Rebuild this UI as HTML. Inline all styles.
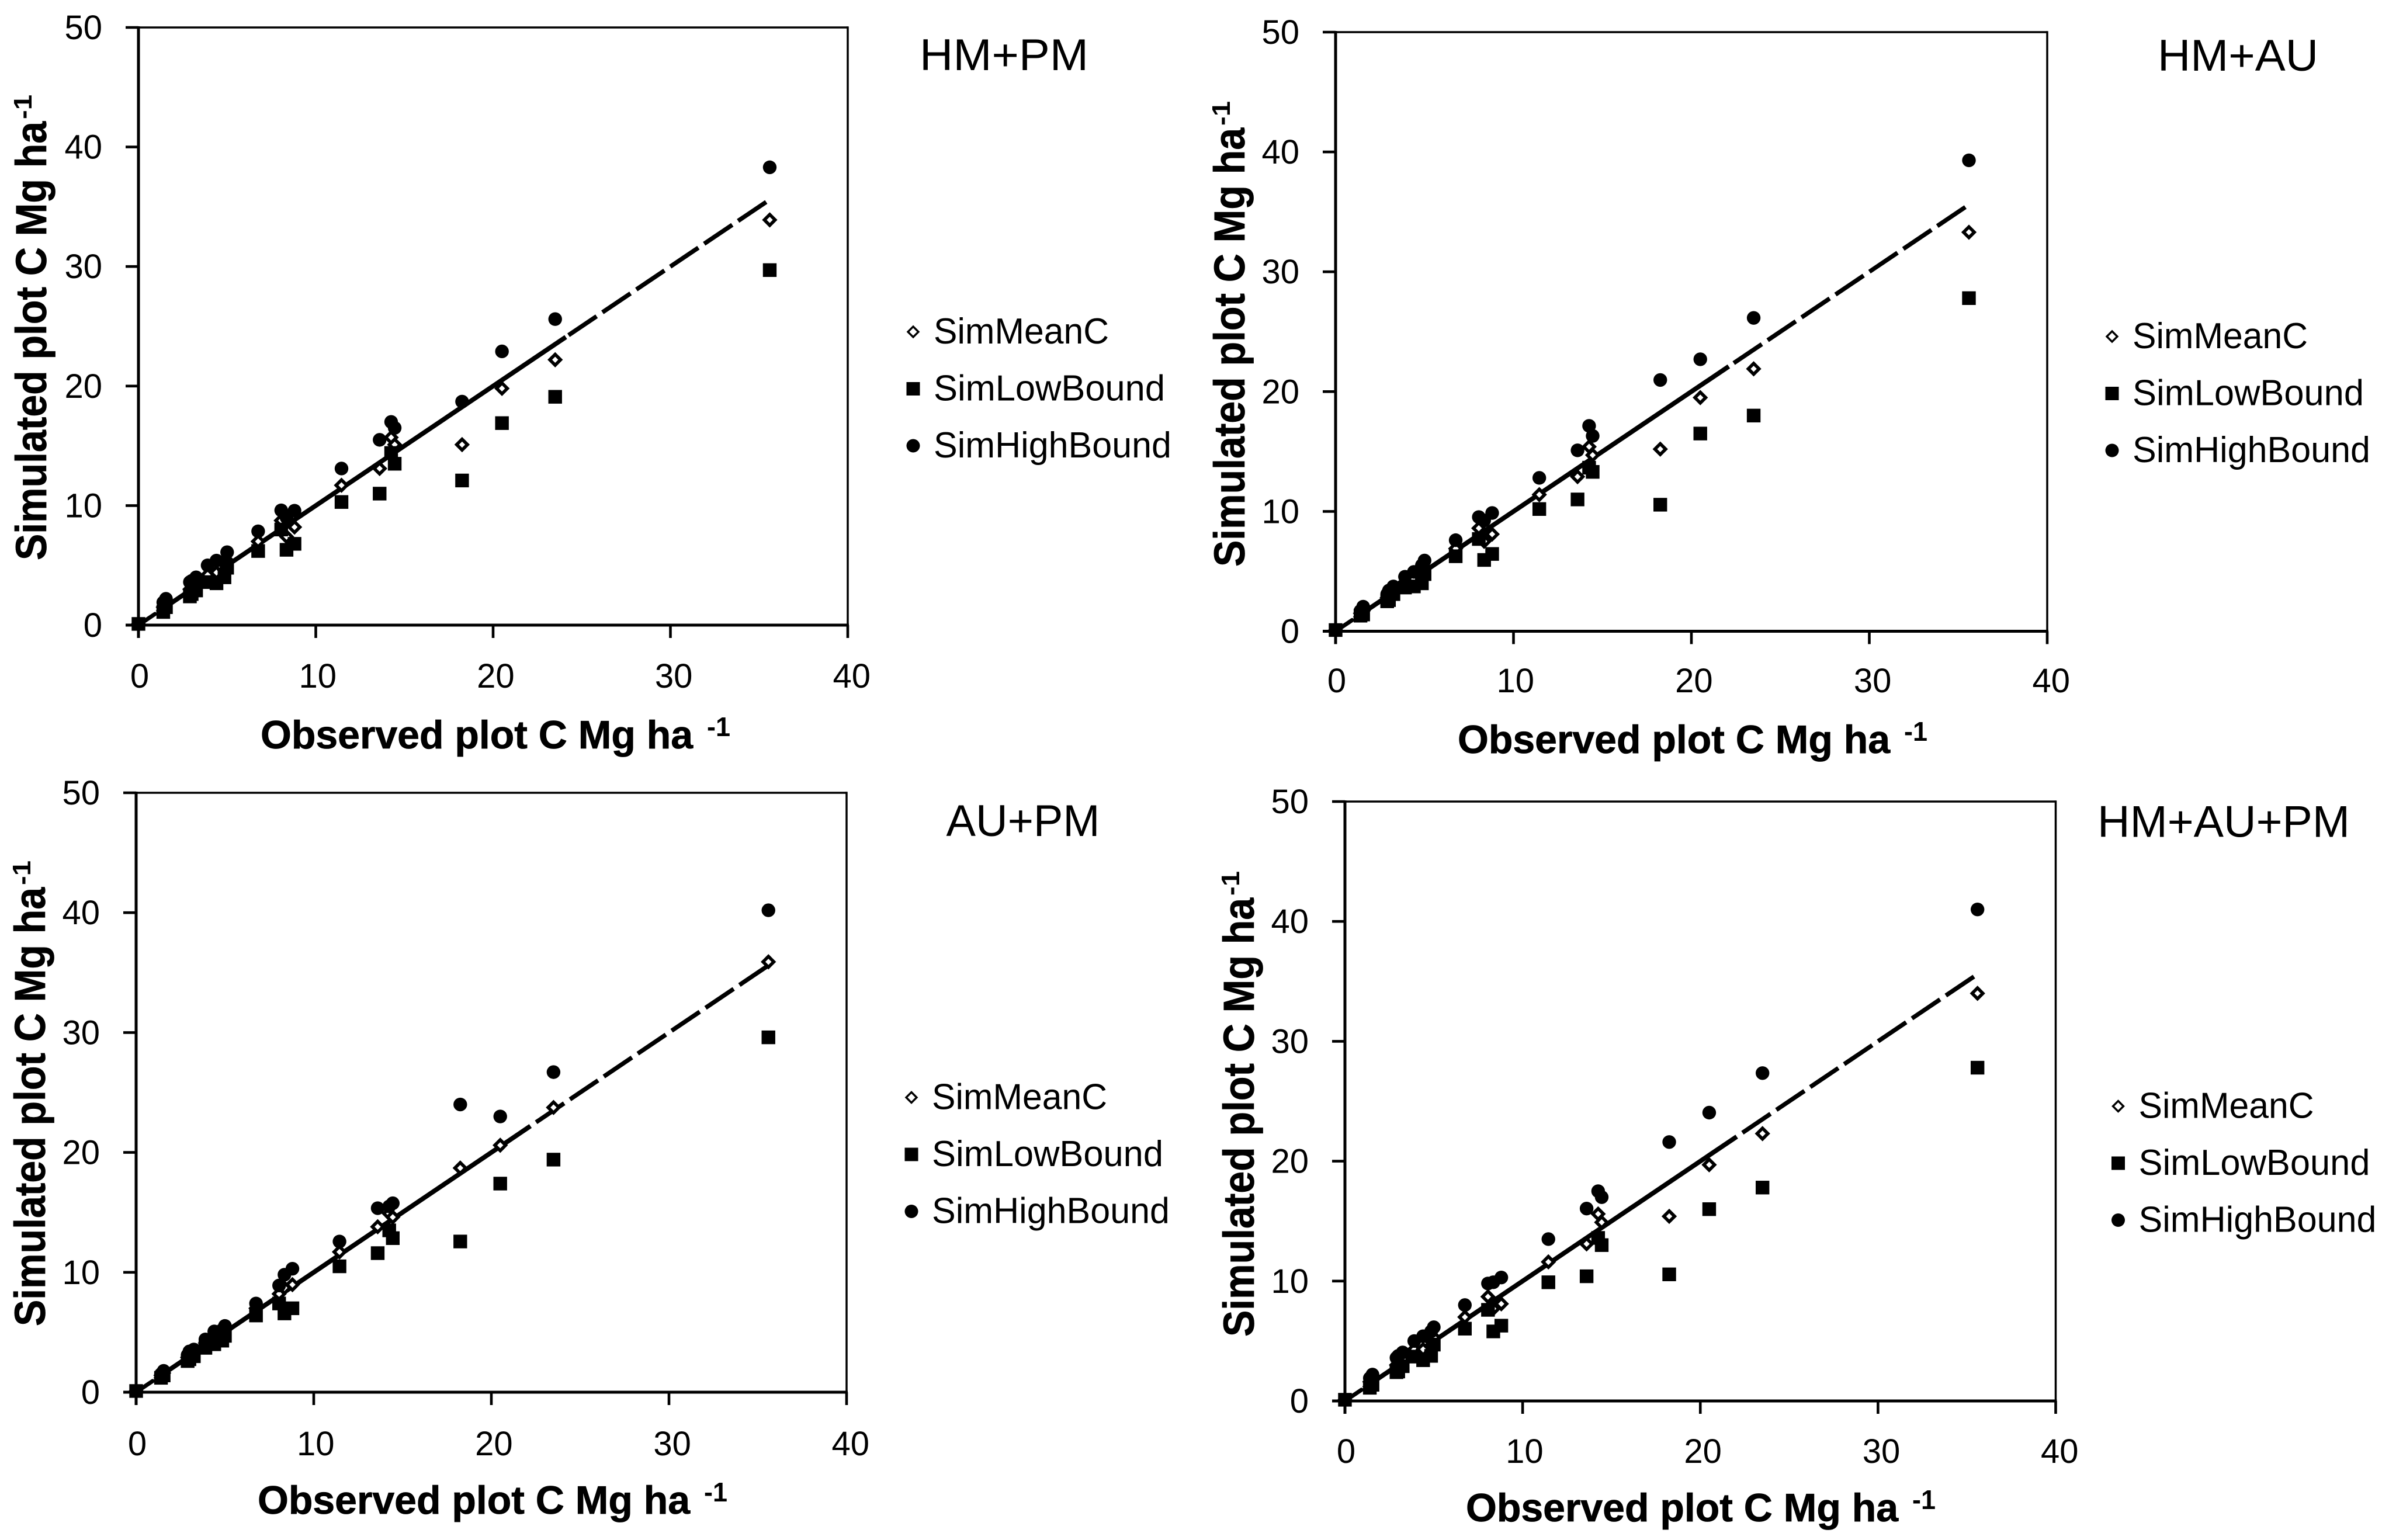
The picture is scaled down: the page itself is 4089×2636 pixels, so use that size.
<!DOCTYPE html>
<html lang="en">
<head>
<meta charset="utf-8">
<title>Simulated versus observed plot C</title>
<style>
html,body{margin:0;padding:0;background:#fff;}
svg{display:block;}
text{font-family:"Liberation Sans",sans-serif;fill:#000;}
</style>
</head>
<body>
<svg id="figure" xmlns="http://www.w3.org/2000/svg" width="4089" height="2636" viewBox="0 0 4089 2636">
<rect x="0" y="0" width="4089" height="2636" fill="#fff"/>
</svg>
<script>
// Shared data: observed plot C (x for every series)
const observedC = [0,1.4,1.55,2.9,3.0,3.25,3.9,4.4,4.85,5.0,6.75,8.05,8.35,8.8,11.45,13.6,14.25,14.45,18.25,20.5,23.5,35.6];
const xTicks = [0,10,20,30,40];
const yTicks = [0,10,20,30,40,50];
const legendLabels = ['SimMeanC','SimLowBound','SimHighBound'];

// HM+PM
const hmPmMean = [0.1,1.5,1.8,3.0,3.1,3.4,4.2,4.4,4.6,5.4,7.0,8.75,7.4,8.2,11.7,13.1,15.7,15.1,15.1,19.8,22.2,33.9];
const hmPmLow  = [0.1,1.1,1.5,2.4,2.6,2.9,3.6,3.5,4.0,4.8,6.2,8.0,6.3,6.8,10.3,11.0,14.4,13.5,12.1,16.9,19.1,29.7];
const hmPmHigh = [0.1,1.9,2.2,3.6,3.7,4.0,5.0,5.4,5.3,6.1,7.85,9.6,9.0,9.57,13.1,15.5,17.0,16.5,18.7,22.9,25.6,38.3];
// HM+AU
const hmAuMean = [0.1,1.5,1.7,2.8,3.0,3.4,4.1,4.35,4.8,5.3,6.9,8.6,7.5,8.1,11.4,12.9,15.4,14.7,15.2,19.5,21.9,33.3];
const hmAuLow  = [0.1,1.3,1.4,2.5,2.6,3.1,3.65,3.74,4.0,4.77,6.26,7.7,5.95,6.45,10.2,11.0,13.65,13.3,10.56,16.5,18.0,27.8];
const hmAuHigh = [0.1,1.7,2.05,3.1,3.4,3.74,4.55,4.95,5.5,5.9,7.6,9.53,9.25,9.87,12.8,15.1,17.14,16.3,20.97,22.7,26.15,39.3];
// AU+PM
const auPmMean = [0.1,1.4,1.6,2.9,3.1,3.3,4.1,4.6,4.9,5.2,7.0,8.2,8.7,8.97,11.7,13.8,14.9,14.6,18.7,20.6,23.75,35.9];
const auPmLow  = [0.1,1.2,1.4,2.6,2.75,3.0,3.7,4.0,4.3,4.7,6.4,7.4,6.57,7.0,10.5,11.6,13.5,12.85,12.57,17.4,19.4,29.6];
const auPmHigh = [0.1,1.5,1.78,3.1,3.4,3.56,4.4,5.07,5.2,5.53,7.4,8.9,9.8,10.3,12.57,15.35,15.5,15.76,24.0,23.0,26.7,40.2];
// HM+AU+PM
const allMean = [0.1,1.6,1.9,3.0,3.3,3.5,4.3,4.3,5.0,5.3,7.0,8.7,7.7,8.1,11.6,13.1,15.6,14.9,15.4,19.7,22.3,34.0];
const allLow  = [0.1,1.1,1.35,2.4,2.46,2.9,3.7,3.4,3.76,4.7,6.03,7.6,5.8,6.28,9.9,10.4,13.6,13.0,10.56,16.0,17.8,27.8];
const allHigh = [0.1,1.9,2.2,3.6,3.76,4.05,5.0,5.4,5.8,6.15,8.0,9.8,9.9,10.3,13.5,16.05,17.5,17.0,21.6,24.05,27.35,41.0];

const svg = document.getElementById('figure');
const NS = 'http://www.w3.org/2000/svg';

function mk(parent, tag, attrs, txt){
  const e = document.createElementNS(NS, tag);
  for (const k in attrs) e.setAttribute(k, attrs[k]);
  if (txt !== undefined) e.textContent = txt;
  parent.appendChild(e);
  return e;
}
function diamondPath(cx, cy, h){
  return 'M'+cx+' '+(cy-h)+'L'+(cx+h)+' '+cy+'L'+cx+' '+(cy+h)+'L'+(cx-h)+' '+cy+'Z';
}

function drawPanel(p){
  const g = mk(svg, 'g', {});
  
  

  const sx = v => p.x0 + (v / 40) * (p.x40 - p.x0);
  const sy = v => p.y0 - (v / 50) * (p.y0 - p.y50);

  // frame
  const top = mk(g, 'line', {x1:sx(0), y1:sy(50), x2:sx(40), y2:sy(50), stroke:'#000','stroke-width':3.5});
  
  
  const right = mk(g, 'line', {x1:sx(40), y1:sy(50)-1.7, x2:sx(40), y2:sy(0), stroke:'#000','stroke-width':3.5});
  
  

  // y axis
  const yAxis = mk(g, 'line', {x1:sx(0), y1:sy(50)-2, x2:sx(0), y2:sy(0)+22, stroke:'#000','stroke-width':5});
  
  
  yTicks.forEach(t => {
    const tk = mk(g, 'line', {x1:sx(0)-22, y1:sy(t), x2:sx(0), y2:sy(t), stroke:'#000','stroke-width':4.6});
    
    
    const lb = mk(g, 'text', {x:sx(0)-62, y:sy(t)+20, 'text-anchor':'end','font-size':58}, String(t));
    
    
  });

  // x axis
  const xAxis = mk(g, 'line', {x1:sx(0)-22, y1:sy(0), x2:sx(40)+2, y2:sy(0), stroke:'#000','stroke-width':5});
  
  
  xTicks.forEach(t => {
    const tk = mk(g, 'line', {x1:sx(t), y1:sy(0), x2:sx(t), y2:sy(0)+22, stroke:'#000','stroke-width':4.6});
    
    
    const lb = mk(g, 'text', {x:sx(t)+2+t*0.12, y:p.xTickBase, 'text-anchor':'middle','font-size':58}, String(t));
    
    
  });

  // 1:1 reference line: short start, solid body, dashed tail
  const l0 = mk(g, 'line', {x1:sx(0), y1:sy(0), x2:sx(0.93), y2:sy(0.93), stroke:'#000','stroke-width':7,'stroke-linecap':'round'});
  
  
  const l1 = mk(g, 'line', {x1:sx(1.05), y1:sy(1.05), x2:sx(p.solidEnd), y2:sy(p.solidEnd), stroke:'#000','stroke-width':8});
  
  
  const l2 = mk(g, 'line', {x1:sx(p.lineEnd), y1:sy(p.lineEnd), x2:sx(p.solidEnd), y2:sy(p.solidEnd), stroke:'#000','stroke-width':7.5,'stroke-dasharray':'58 12'});
  
  

  // series
  observedC.forEach((v, i) => {
    const d = mk(g, 'path', {d:diamondPath(sx(v), sy(p.mean[i]), 9.2), fill:'#fff', stroke:'#000','stroke-width':5.6});
    
    
  });
  observedC.forEach((v, i) => {
    const s = mk(g, 'rect', {x:sx(v)-11.7, y:sy(p.low[i])-11.7, width:23.4, height:23.4, fill:'#000'});
    
    
  });
  observedC.forEach((v, i) => {
    const c = mk(g, 'circle', {cx:sx(v), cy:sy(p.high[i]), r:11.7, fill:'#000'});
    
    
  });

  // y title
  const yt = mk(g, 'text', {transform:'translate('+p.yTitleX+' '+p.yTitleBottom+') rotate(-90)', 'font-size':74,'font-weight':'bold', textLength:751, lengthAdjust:'spacingAndGlyphs', stroke:'#000','stroke-width':0.8}, 'Simulated plot C Mg ha');
  
  
  const ys = mk(g, 'text', {transform:'translate('+(p.yTitleX-25)+' '+(p.yTitleBottom-755)+') rotate(-90)', 'font-size':44,'font-weight':'bold', textLength:42, lengthAdjust:'spacingAndGlyphs'}, '-1');
  
  

  // x title
  const xt = mk(g, 'text', {x:p.xTitleX, y:p.xTitleBase, 'font-size':68,'font-weight':'bold', textLength:740, lengthAdjust:'spacingAndGlyphs', stroke:'#000','stroke-width':0.8}, 'Observed plot C Mg ha');
  
  
  const xs = mk(g, 'text', {x:p.xTitleX+764, y:p.xTitleBase-21, 'font-size':46,'font-weight':'bold', textLength:40, lengthAdjust:'spacingAndGlyphs'}, '-1');
  
  

  // panel title
  const pt = mk(g, 'text', {x:p.titleX, y:p.titleBase, 'font-size':76, textLength:p.titleW, lengthAdjust:'spacingAndGlyphs'}, p.title);
  
  

  // legend
  const lg = mk(g, 'g', {});
  
  
  const widths = [300, 396, 407];
  legendLabels.forEach((name, i) => {
    const my = p.legY + i * 97.5 + 1;
    let m;
    if (i === 0) m = mk(lg, 'path', {d:diamondPath(p.legX, my, 9), fill:'#fff', stroke:'#000','stroke-width':3.4});
    if (i === 1) m = mk(lg, 'rect', {x:p.legX-11.5, y:my-11.5, width:23, height:23, fill:'#000'});
    if (i === 2) m = mk(lg, 'circle', {cx:p.legX, cy:my, r:11.5, fill:'#000'});
    
    
    const t = mk(lg, 'text', {x:p.legX+35, y:my+20, 'font-size':62, textLength:widths[i], lengthAdjust:'spacingAndGlyphs'}, name);
    
    
  });
}

drawPanel({key:'hm-pm', title:'HM+PM', titleX:1574, titleBase:120, titleW:289,
  mean:hmPmMean, low:hmPmLow, high:hmPmHigh,
  x0:237, x40:1451, y0:1070, y50:47, solidEnd:24.1, lineEnd:35.4,
  xTickBase:1177, xTitleX:446, xTitleBase:1281, yTitleX:79, yTitleBottom:959, legX:1563, legY:567});
drawPanel({key:'hm-au', title:'HM+AU', titleX:3693, titleBase:121, titleW:275,
  mean:hmAuMean, low:hmAuLow, high:hmAuHigh,
  x0:2286, x40:3504, y0:1080.5, y50:55, solidEnd:22.1, lineEnd:35.4,
  xTickBase:1185, xTitleX:2495, xTitleBase:1289, yTitleX:2130, yTitleBottom:970, legX:3615, legY:575});
drawPanel({key:'au-pm', title:'AU+PM', titleX:1619.5, titleBase:1431, titleW:263,
  mean:auPmMean, low:auPmLow, high:auPmHigh,
  x0:233, x40:1449, y0:2383, y50:1357, solidEnd:22.2, lineEnd:35.55,
  xTickBase:2491, xTitleX:441, xTitleBase:2591, yTitleX:77, yTitleBottom:2270, legX:1560, legY:1877.5});
drawPanel({key:'hm-au-pm', title:'HM+AU+PM', titleX:3590, titleBase:1432.5, titleW:432,
  mean:allMean, low:allLow, high:allHigh,
  x0:2302, x40:3518.5, y0:2398, y50:1372, solidEnd:22.05, lineEnd:35.4,
  xTickBase:2504, xTitleX:2509, xTitleBase:2604, yTitleX:2146, yTitleBottom:2288, legX:3625.5, legY:1892.5});
</script>
</body>
</html>
